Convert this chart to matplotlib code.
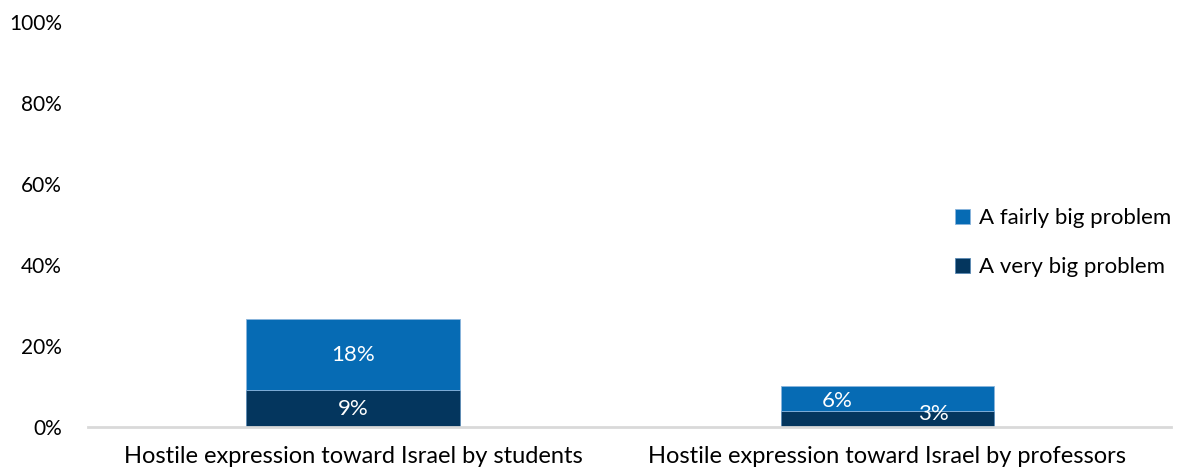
import matplotlib.pyplot as plt
import numpy as np

categories = ['Hostile expression toward Israel by students',
              'Hostile expression toward Israel by professors']
very_big = [9.0, 3.8]
fairly_big = [17.6, 6.2]
very_labels = ['9%', '3%']
fairly_labels = ['18%', '6%']

dark = '#04365e'
light = '#066bb4'

plt.rcParams['font.family'] = ['Lato', 'DejaVu Sans']

fig = plt.figure(figsize=(11.92, 4.71), dpi=100)
ax = fig.add_axes([0.074, 0.094, 0.908, 0.859])

x = np.arange(len(categories))
w = 0.40
b1 = ax.bar(x, very_big, w, color=dark, edgecolor='#5a8ab5', linewidth=0.6,
            label='A very big problem')
b2 = ax.bar(x, fairly_big, w, bottom=very_big, color=light, edgecolor='#8ab4dc',
            linewidth=0.6, label='A fairly big problem')

# label offsets (pixels) to mimic original placement
dark_off = [(0, 0), (46, 5)]
light_off = [(0, 0), (-50, -2)]
for i in range(len(x)):
    ax.annotate(very_labels[i], (x[i], very_big[i] / 2), xytext=dark_off[i],
                textcoords='offset pixels', ha='center', va='center',
                color='white', fontsize=16)
    ax.annotate(fairly_labels[i], (x[i], very_big[i] + fairly_big[i] / 2),
                xytext=light_off[i], textcoords='offset pixels',
                ha='center', va='center', color='white', fontsize=16)

ax.set_xlim(-0.496, 1.53)
ax.set_ylim(0, 100)
ax.set_yticks(range(0, 101, 20))
ax.set_yticklabels([f'{v}%' for v in range(0, 101, 20)], fontsize=15)
ax.set_xticks(x)
ax.set_xticklabels(categories, fontsize=17)
ax.tick_params(axis='y', length=0, pad=19)
ax.tick_params(axis='x', length=0, pad=14)
for s in ['top', 'right', 'left']:
    ax.spines[s].set_visible(False)
ax.spines['bottom'].set_color('#d9d9d9')
ax.spines['bottom'].set_linewidth(2)

handles = [b2, b1]
ax.legend(handles, [h.get_label() for h in handles], loc='center left',
          bbox_to_anchor=(0.782, 0.455), frameon=False, fontsize=16,
          handlelength=0.7, handleheight=0.7, handletextpad=0.4,
          labelspacing=1.3)

fig.savefig('out.png', dpi=100)
